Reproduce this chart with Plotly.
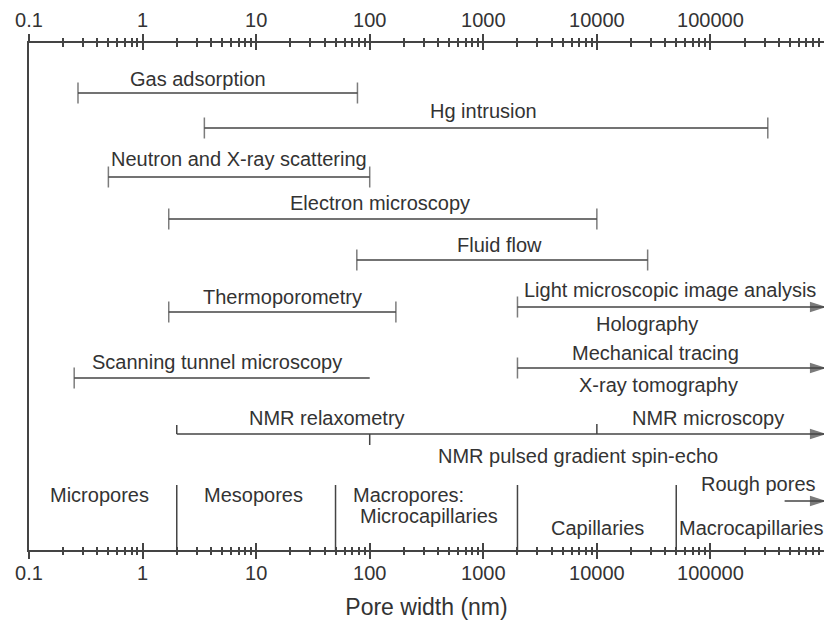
import math
import plotly.graph_objects as go

# ---------------- data ----------------
decade_ticks = [0.1, 1, 10, 100, 1000, 10000, 100000]
decade_labels = ["0.1", "1", "10", "100", "1000", "10000", "100000"]
axis_min = 0.1
axis_max = 1e6

methods = ["Gas adsorption", "Hg intrusion", "Neutron and X-ray scattering",
           "Electron microscopy", "Fluid flow", "Thermoporometry"]
method_min = [0.27, 3.5, 0.5, 1.7, 77, 1.7]
method_max = [78, 320000, 100, 10000, 28000, 170]

stm_name = "Scanning tunnel microscopy"
stm_min = 0.25
stm_max = 100

open_above = ["Light microscopic image analysis", "Mechanical tracing"]
open_below = ["Holography", "X-ray tomography"]
open_min = [2000, 2000]

nmr_names = ["NMR relaxometry", "NMR microscopy", "NMR pulsed gradient spin-echo"]
nmr_min = 2
nmr_marks = [2, 100, 10000]

rough_name = "Rough pores"
rough_min = 450000

class_bounds = [2, 50, 2000, 50000]
class_names = ["Micropores", "Mesopores", "Macropores:", "Microcapillaries",
               "Capillaries", "Macrocapillaries"]

# ---------------- layout (positions / styles) ----------------
W, H = 824, 622
ML, MR, MT, MB = 29, 0, 43, 72
Y_TOP, Y_BOT = MT, H - MB          # y axis in "pixel rows"
row_y = [93, 128, 177, 219, 260, 312]
label_y = [79, 111, 159, 203, 245, 297]
label_x = [3.1, 1000, 7.1, 123, 1400, 17]
open_row_y = [307, 368]
open_above_y = [290, 353]
open_above_x = [44000, 33000]
open_below_y = [324, 385]
open_below_x = [27500, 35000]
stm_y, stm_label_y, stm_label_x = 378, 362, 4.5
nmr_y = 434
nmr_label_pos = [(42, 418), (95000, 418), (6800, 456)]
nmr_tick_dir = [-9, 11, -10]
rough_y, rough_label = 501, (263000, 484)
sep_top = 485
class_label_pos = [(0.42, 495, "center"), (9.4, 495, "center"), (68, 495, "left"),
                   (79, 516, "left"), (10200, 528, "center"), (230000, 528, "center")]

LINE = "#444444"
TXT = "#333333"
FONT = "Liberation Sans, Arial, sans-serif"
FS = 20
LW = 1.5
TICK_SZ = 15
ARROW_SZ = 14

fig = go.Figure()

def end_tick_marker(symbols, sizes):
    return dict(symbol=symbols, size=sizes, color=LINE,
                angle=[90 if s == "arrow" else 0 for s in symbols],
                line=dict(color=LINE, width=LW))

# ranged methods with end ticks
for name, a, b, y in zip(methods, method_min, method_max, row_y):
    fig.add_trace(go.Scatter(x=[a, b], y=[y, y], mode="lines+markers",
                             line=dict(color=LINE, width=LW),
                             marker=end_tick_marker(["line-ns-open"] * 2, [TICK_SZ] * 2),
                             name=name, showlegend=False, hoverinfo="skip"))

# scanning tunnel microscopy (tick only at left end)
fig.add_trace(go.Scatter(x=[stm_min, stm_max], y=[stm_y, stm_y], mode="lines+markers",
                         line=dict(color=LINE, width=LW),
                         marker=end_tick_marker(["line-ns-open", "circle"], [TICK_SZ, 0]),
                         showlegend=False, hoverinfo="skip"))

# open-ended methods (tick at start, arrow at end)
for a, y in zip(open_min, open_row_y):
    fig.add_trace(go.Scatter(x=[a, axis_max], y=[y, y], mode="lines+markers",
                             line=dict(color=LINE, width=LW),
                             marker=end_tick_marker(["line-ns-open", "arrow"], [TICK_SZ, ARROW_SZ]),
                             showlegend=False, hoverinfo="skip", cliponaxis=False))

# NMR line
fig.add_trace(go.Scatter(x=[nmr_min, axis_max], y=[nmr_y, nmr_y], mode="lines+markers",
                         line=dict(color=LINE, width=LW),
                         marker=end_tick_marker(["circle", "arrow"], [0, ARROW_SZ]),
                         showlegend=False, hoverinfo="skip", cliponaxis=False))
tx, ty = [], []
for m, d in zip(nmr_marks, nmr_tick_dir):
    tx += [m, m, None]
    ty += [nmr_y, nmr_y + d, None]
fig.add_trace(go.Scatter(x=tx, y=ty, mode="lines", line=dict(color=LINE, width=LW),
                         showlegend=False, hoverinfo="skip"))

# rough pores arrow
fig.add_trace(go.Scatter(x=[rough_min, axis_max], y=[rough_y, rough_y], mode="lines+markers",
                         line=dict(color=LINE, width=LW),
                         marker=end_tick_marker(["circle", "arrow"], [0, ARROW_SZ]),
                         showlegend=False, hoverinfo="skip", cliponaxis=False))

# class separators
sx, sy = [], []
for b in class_bounds:
    sx += [b, b, None]
    sy += [sep_top, Y_BOT, None]
fig.add_trace(go.Scatter(x=sx, y=sy, mode="lines", line=dict(color=LINE, width=LW),
                         showlegend=False, hoverinfo="skip"))

# dummy traces for overlay axes
for ax in ["x2", "x3", "x4"]:
    fig.add_trace(go.Scatter(x=[1], y=[None], xaxis=ax, yaxis="y", mode="markers",
                             showlegend=False, hoverinfo="skip"))

ann = []
def label(x, y, text, anchor="center", size=FS):
    ann.append(dict(x=math.log10(x), y=y, xref="x", yref="y", text=text,
                    showarrow=False, xanchor=anchor, yanchor="middle",
                    font=dict(family=FONT, size=size, color=TXT)))

for name, lx, ly in zip(methods, label_x, label_y):
    label(lx, ly, name)
label(stm_label_x, stm_label_y, stm_name)
for t, lx, ly in zip(open_above, open_above_x, open_above_y):
    label(lx, ly, t)
for t, lx, ly in zip(open_below, open_below_x, open_below_y):
    label(lx, ly, t)
for t, (lx, ly) in zip(nmr_names, nmr_label_pos):
    label(lx, ly, t)
label(rough_label[0], rough_label[1], rough_name)
for t, (lx, ly, anc) in zip(class_names, class_label_pos):
    label(lx, ly, t, anchor=anc)

minor_vals = [m * d for d in [0.1, 1, 10, 100, 1000, 10000, 100000] for m in range(2, 10)]
rng = [math.log10(axis_min), math.log10(axis_max)]

def xax(side, ticks, labels, overlay=None, title=None, line=False, standoff=0):
    d = dict(type="log", range=rng, side=side, anchor="y", automargin=False,
             tickmode="array", tickvals=decade_ticks,
             ticktext=decade_labels if labels else [""] * len(decade_ticks),
             showticklabels=labels, ticks=ticks, ticklen=7, tickwidth=LW,
             tickcolor=LINE, showgrid=False, zeroline=False,
             showline=line, linecolor=LINE, linewidth=LW,
             tickfont=dict(family=FONT, size=FS, color=TXT),
             ticklabelstandoff=standoff,
             minor=dict(tickmode="array", tickvals=minor_vals, ticks=ticks,
                        ticklen=3.5, tickwidth=LW, tickcolor=LINE, showgrid=False))
    if overlay:
        d["overlaying"] = overlay
    if title:
        d["title"] = dict(text=title, font=dict(family=FONT, size=23, color=TXT), standoff=16)
    return d

fig.update_layout(
    width=W, height=H,
    margin=dict(l=ML, r=MR, t=MT, b=MB, autoexpand=False),
    paper_bgcolor="white", plot_bgcolor="white",
    showlegend=False,
    xaxis=xax("bottom", "outside", True, title="Pore width (nm)", line=True, standoff=-3),
    xaxis3=xax("bottom", "inside", False, overlay="x"),
    xaxis2=xax("top", "outside", True, overlay="x", line=True, standoff=-1),
    xaxis4=xax("top", "inside", False, overlay="x"),
    yaxis=dict(range=[Y_BOT, Y_TOP], showline=True, linecolor=LINE, linewidth=LW,
               automargin=False, showticklabels=False, ticks="", showgrid=False,
               zeroline=False),
    annotations=ann,
)

fig.write_html("out.html", config={"displayModeBar": False},
               post_script="document.body.style.margin='0px';")
